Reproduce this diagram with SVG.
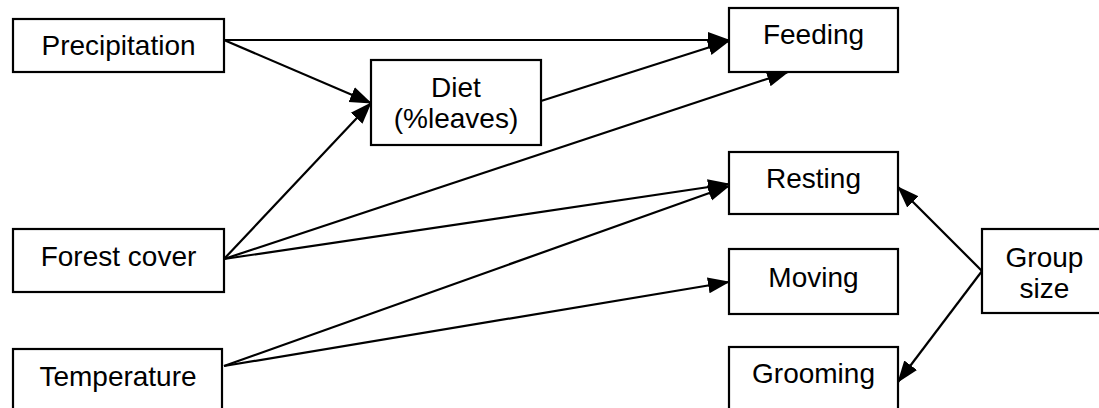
<svg xmlns="http://www.w3.org/2000/svg" width="1099" height="408" viewBox="0 0 1099 408">
<style>
.box{fill:#fff;stroke:#000;stroke-width:2.2}
.lbl{font-family:"Liberation Sans",Arial,sans-serif;font-size:28px;fill:#000;text-anchor:middle}
.edge{stroke:#000;stroke-width:2.2;fill:none;marker-end:url(#ah)}
</style>
<defs>
<marker id="ah" markerUnits="userSpaceOnUse" markerWidth="22" markerHeight="18" refX="21" refY="9" orient="auto">
<path d="M0,1 L22,9 L0,17 z" fill="#000"/>
</marker>
</defs>
<rect width="1099" height="408" fill="#fff"/>
<g id="connectors">
<path class="edge" d="M224,40 L729,40"/>
<path class="edge" d="M224,40 L371,103"/>
<path class="edge" d="M224,259 L371,103"/>
<path class="edge" d="M224,259 L788,72"/>
<path class="edge" d="M224,259 L729,184"/>
<path class="edge" d="M224,366 L729,186"/>
<path class="edge" d="M224,366 L729,282"/>
<path class="edge" d="M541,101 L729,41"/>
<path class="edge" d="M982,271 L898,187"/>
<path class="edge" d="M982,271 L898,382"/>
</g>
<g id="precipitation"><rect class="box" x="13" y="19" width="211" height="53"/><text class="lbl" x="118.5" y="55">Precipitation</text></g>
<g id="feeding"><rect class="box" x="729" y="8" width="169" height="64"/><text class="lbl" x="813.5" y="44">Feeding</text></g>
<g id="diet"><rect class="box" x="371" y="60" width="170" height="85"/><text class="lbl" x="456" y="97">Diet</text><text class="lbl" x="456" y="128">(%leaves)</text></g>
<g id="forest-cover"><rect class="box" x="13" y="229" width="211" height="63"/><text class="lbl" x="118.5" y="266">Forest cover</text></g>
<g id="temperature"><rect class="box" x="13" y="349" width="209" height="64"/><text class="lbl" x="118" y="386">Temperature</text></g>
<g id="resting"><rect class="box" x="729" y="152" width="169" height="62"/><text class="lbl" x="813.5" y="188">Resting</text></g>
<g id="moving"><rect class="box" x="729" y="249" width="169" height="65"/><text class="lbl" x="813.5" y="287">Moving</text></g>
<g id="grooming"><rect class="box" x="729" y="347" width="169" height="66"/><text class="lbl" x="813.5" y="383">Grooming</text></g>
<g id="group-size"><rect class="box" x="982" y="229" width="125" height="84"/><text class="lbl" x="1044.5" y="267">Group</text><text class="lbl" x="1044.5" y="298">size</text></g>
</svg>
